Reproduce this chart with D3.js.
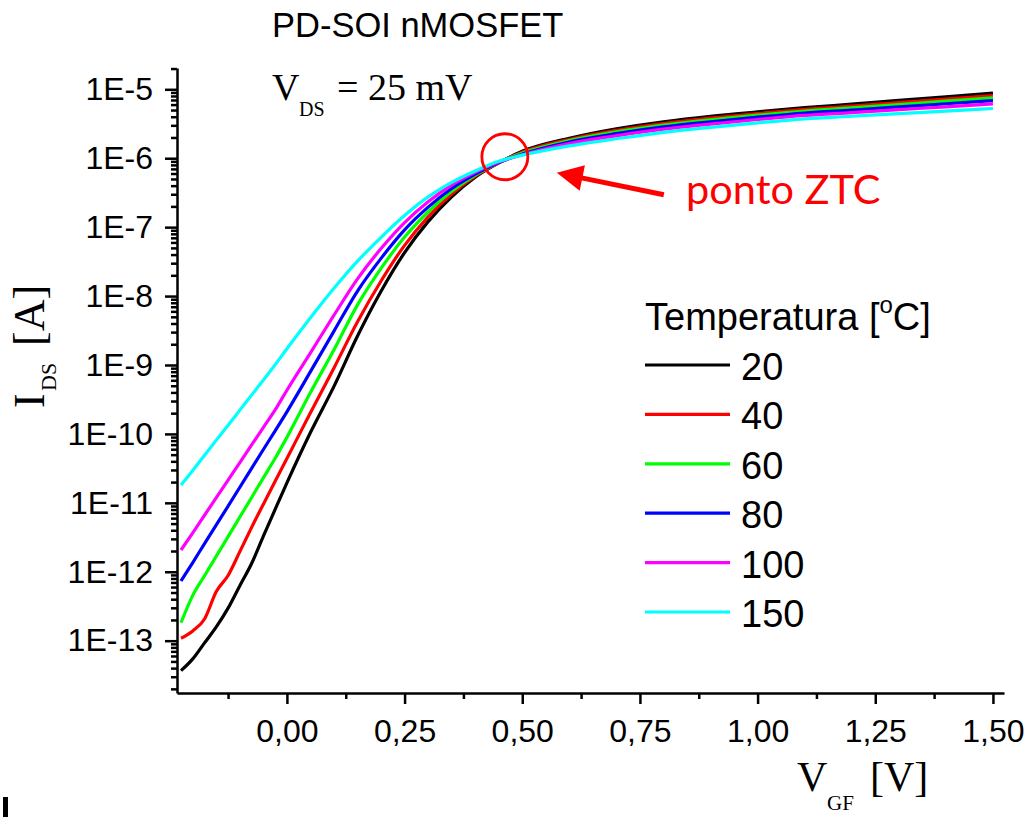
<!DOCTYPE html>
<html>
<head>
<meta charset="utf-8">
<script src="https://cdn.jsdelivr.net/npm/d3@7"></script>
<style>
  body { margin: 0; background: #fff; }
  svg { display: block; }
</style>
</head>
<body>
<svg id="chart"></svg>
<script>
// gate voltage V_GF [V]
var vgf = [-0.225, -0.2, -0.175, -0.15, -0.125, -0.1, -0.075, -0.05, -0.025, 0,
    0.05, 0.1, 0.15, 0.2, 0.25, 0.3, 0.35, 0.4, 0.45, 0.5,
    0.6, 0.7, 0.8, 0.9, 1.0, 1.1, 1.2, 1.3, 1.4, 1.5];

// log10 of I_DS [A], one array per temperature
var logI20 = [-13.435, -13.264, -13.032, -12.800, -12.528, -12.202, -11.881, -11.483, -11.094, -10.710,
    -9.98, -9.31, -8.58, -7.93, -7.369, -6.92, -6.56, -6.275, -6.068, -5.900,
    -5.711, -5.573, -5.472, -5.392, -5.327, -5.266, -5.215, -5.161, -5.109, -5.055];
var logI40 = [-12.965, -12.858, -12.685, -12.286, -12.055, -11.708, -11.356, -11.019, -10.688, -10.357,
    -9.694, -9.042, -8.373, -7.781, -7.264, -6.85, -6.52, -6.26, -6.066, -5.912,
    -5.728, -5.596, -5.496, -5.418, -5.352, -5.292, -5.243, -5.192, -5.142, -5.091];
var logI60 = [-12.739, -12.343, -12.058, -11.774, -11.491, -11.206, -10.922, -10.637, -10.354, -10.05,
    -9.40, -8.778, -8.128, -7.599, -7.144, -6.78, -6.48, -6.245, -6.064, -5.925,
    -5.745, -5.618, -5.519, -5.442, -5.376, -5.316, -5.270, -5.221, -5.173, -5.124];
var logI80 = [-12.134, -11.866, -11.592, -11.321, -11.048, -10.774, -10.499, -10.226, -9.955, -9.679,
    -9.097, -8.508, -7.927, -7.453, -7.039, -6.71, -6.44, -6.23, -6.062, -5.940,
    -5.764, -5.644, -5.546, -5.471, -5.405, -5.345, -5.301, -5.256, -5.210, -5.165];
var logI100 = [-11.684, -11.435, -11.180, -10.925, -10.671, -10.415, -10.160, -9.906, -9.652, -9.366,
    -8.823, -8.277, -7.75, -7.31, -6.933, -6.63, -6.39, -6.205, -6.055, -5.950,
    -5.787, -5.675, -5.578, -5.505, -5.438, -5.379, -5.338, -5.296, -5.254, -5.212];
var logI150 = [-10.740, -10.53, -10.309, -10.09, -9.874, -9.655, -9.437, -9.219, -8.997, -8.765,
    -8.316, -7.888, -7.494, -7.147, -6.830, -6.560, -6.350, -6.185, -6.045, -5.955,
    -5.820, -5.718, -5.624, -5.553, -5.486, -5.428, -5.391, -5.354, -5.316, -5.279];

var temps = ["20", "40", "60", "80", "100", "150"];
var colors = ["#000000", "#ff0000", "#00ff00", "#0000ff", "#ff00ff", "#00ffff"];
var series = [logI20, logI40, logI60, logI80, logI100, logI150];

var xTicks = [0, 0.25, 0.5, 0.75, 1.0, 1.25, 1.5];
var xTickLabels = ["0,00", "0,25", "0,50", "0,75", "1,00", "1,25", "1,50"];
var xMinor = [-0.125, 0.125, 0.375, 0.625, 0.875, 1.125, 1.375];
var yTicks = [1e-13, 1e-12, 1e-11, 1e-10, 1e-9, 1e-8, 1e-7, 1e-6, 1e-5];
var yTickLabels = ["1E-13", "1E-12", "1E-11", "1E-10", "1E-9", "1E-8", "1E-7", "1E-6", "1E-5"];

// zero temperature coefficient point [V, A]
var ztc = [0.463, 1.05e-6];

var W = 1028, H = 817;
var sans = "'Liberation Sans', Arial, sans-serif";
var serif = "'Liberation Serif', 'Times New Roman', serif";

var svg = d3.select('#chart')
    .attr('width', W)
    .attr('height', H)
    .style('background', '#fff');

var x = d3.scaleLinear()
    .domain([-0.2335, 1.5235])
    .range([177, 1004]);

var y = d3.scaleLog()
    .domain([Math.pow(10, -13.759), Math.pow(10, -4.691)])
    .range([693, 68]);

// minor ticks for the log axis: 2..9 in every decade inside the domain
var yMinor = [];
for (var e = -14; e <= -5; e++) {
    for (var m = 2; m <= 9; m++) {
        var v = m * Math.pow(10, e);
        if (v >= y.domain()[0] && v <= y.domain()[1]) yMinor.push(v);
    }
}

// minor ticks first, then major axes on top
svg.append('g')
    .attr('transform', 'translate(0,693)')
    .call(d3.axisBottom(x).tickValues(xMinor).tickSize(6).tickFormat(''))
    .call(function (g) { g.select('.domain').remove(); });

svg.append('g')
    .attr('transform', 'translate(177,0)')
    .call(d3.axisLeft(y).tickValues(yMinor).tickSize(6).tickFormat(''))
    .call(function (g) { g.select('.domain').remove(); });

svg.append('g')
    .attr('transform', 'translate(0,693)')
    .call(d3.axisBottom(x)
        .tickValues(xTicks)
        .tickSize(11)
        .tickSizeOuter(0)
        .tickPadding(15)
        .tickFormat(function (d, i) { return xTickLabels[i]; }));

svg.append('g')
    .attr('transform', 'translate(177,0)')
    .call(d3.axisLeft(y)
        .tickValues(yTicks)
        .tickSize(12)
        .tickSizeOuter(0)
        .tickPadding(12)
        .tickFormat(function (d, i) { return yTickLabels[i]; }));

svg.selectAll('.tick line, .domain')
    .attr('stroke', '#000')
    .attr('stroke-width', 2.5);

svg.selectAll('.tick text')
    .attr('fill', '#000')
    .style('font-family', sans)
    .style('font-size', '32px');

// curves
var line = d3.line()
    .x(function (d) { return x(d[0]); })
    .y(function (d) { return y(Math.pow(10, d[1])); })
    .curve(d3.curveMonotoneX);

series.forEach(function (s, i) {
    svg.append('path')
        .datum(vgf.map(function (v, k) { return [v, s[k]]; }))
        .attr('d', line)
        .attr('fill', 'none')
        .attr('stroke', colors[i])
        .attr('stroke-width', 3.2)
        .attr('stroke-linejoin', 'round');
});

// title texts
svg.append('text')
    .attr('x', 272).attr('y', 37)
    .style('font-family', sans).style('font-size', '34.5px')
    .text('PD-SOI nMOSFET');

svg.append('text')
    .attr('x', 272).attr('y', 100)
    .style('font-family', serif).style('font-size', '38px')
    .text('V');
svg.append('text')
    .attr('x', 299).attr('y', 116)
    .style('font-family', serif).style('font-size', '20px')
    .text('DS');
svg.append('text')
    .attr('x', 337).attr('y', 100)
    .style('font-family', serif).style('font-size', '38px')
    .text('= 25 mV');

// y axis title
var yt = svg.append('g').attr('transform', 'translate(44,408) rotate(-90)');
yt.append('text').attr('x', 0).attr('y', 0)
    .style('font-family', serif).style('font-size', '44px').text('I');
yt.append('text').attr('x', 17).attr('y', 12)
    .style('font-family', serif).style('font-size', '22px').text('DS');
yt.append('text').attr('x', 62).attr('y', 0)
    .style('font-family', serif).style('font-size', '44px').text('[A]');

// x axis title
svg.append('text')
    .attr('x', 797).attr('y', 791)
    .style('font-family', serif).style('font-size', '42px').text('V');
svg.append('text')
    .attr('x', 827).attr('y', 810)
    .style('font-family', serif).style('font-size', '21px').text('GF');
svg.append('text')
    .attr('x', 870).attr('y', 791)
    .style('font-family', serif).style('font-size', '42px').text('[V]');

// legend
var legend = svg.append('g').attr('transform', 'translate(645,330)');
var lt = legend.append('text')
    .attr('x', 0).attr('y', 0)
    .style('font-family', sans).style('font-size', '38px');
lt.append('tspan').text('Temperatura [');
lt.append('tspan').attr('dy', -17).style('font-size', '24px').text('o');
lt.append('tspan').attr('dy', 17).text('C]');

temps.forEach(function (t, i) {
    var ly = 35 + i * 49.4;
    legend.append('line')
        .attr('x1', 0).attr('x2', 85)
        .attr('y1', ly).attr('y2', ly)
        .attr('stroke', colors[i])
        .attr('stroke-width', 3.2);
    legend.append('text')
        .attr('x', 96).attr('y', ly + 15)
        .style('font-family', sans).style('font-size', '38px')
        .text(t);
});

// ZTC annotation
var cx = x(ztc[0]), cy = y(ztc[1]);
svg.append('circle')
    .attr('cx', cx).attr('cy', cy).attr('r', 23)
    .attr('fill', 'none')
    .attr('stroke', '#ff0000')
    .attr('stroke-width', 2.8);

var tip = [cx + 52, cy + 16], tail = [cx + 159, cy + 38];
var dx = tip[0] - tail[0], dy = tip[1] - tail[1];
var len = Math.sqrt(dx * dx + dy * dy);
var ux = dx / len, uy = dy / len;
var bx = tip[0] - 26 * ux, by = tip[1] - 26 * uy;
svg.append('line')
    .attr('x1', tail[0]).attr('y1', tail[1])
    .attr('x2', bx + 2 * ux).attr('y2', by + 2 * uy)
    .attr('stroke', '#ff0000').attr('stroke-width', 5);
svg.append('path')
    .attr('d', 'M' + tip[0] + ',' + tip[1] +
        'L' + (bx - 13 * uy) + ',' + (by + 13 * ux) +
        'L' + (bx + 13 * uy) + ',' + (by - 13 * ux) + 'Z')
    .attr('fill', '#ff0000');

svg.append('text')
    .attr('x', 686).attr('y', 204)
    .attr('fill', '#ff0000')
    .style('font-family', "Lato, 'Open Sans', sans-serif").style('font-size', '41.5px')
    .text('ponto ZTC');

// stray mark at the lower left corner of the scan
svg.append('rect')
    .attr('x', 3).attr('y', 797).attr('width', 5).attr('height', 20)
    .attr('fill', '#000');
</script>
</body>
</html>
